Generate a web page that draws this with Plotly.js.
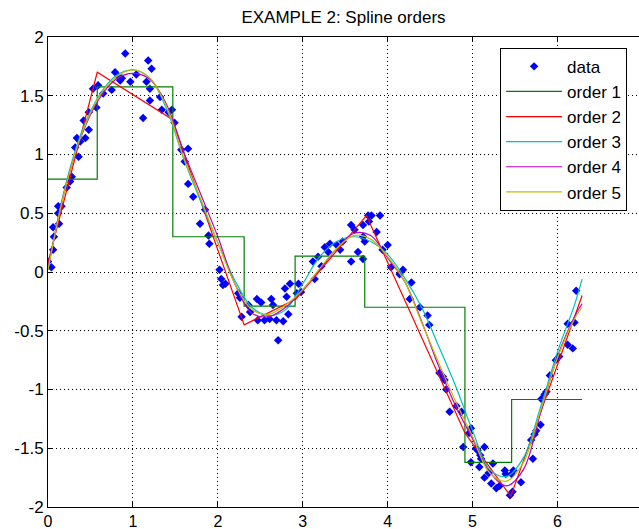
<!DOCTYPE html>
<html>
<head>
<meta charset="utf-8">
<script src="https://cdn.plot.ly/plotly-3.0.1.min.js"></script>
<style>html,body{margin:0;padding:0;background:#fff;}#chart{width:639px;height:529px;}</style>
</head>
<body>
<div id="chart"></div>
<script>
// noisy data samples
const dataX = [0.00,0.04,0.06,0.07,0.06,0.12,0.13,0.12,0.16,0.22,0.26,0.28,0.32,0.34,0.36,0.38,0.42,0.44,0.48,0.48,
  0.53,0.57,0.59,0.65,0.75,0.79,0.83,0.85,0.87,0.91,0.97,1.04,1.12,1.16,1.18,1.20,1.20,1.22,1.32,1.34,
  1.42,1.46,1.49,1.57,1.61,1.65,1.65,1.71,1.79,1.85,1.89,1.90,2.02,2.04,2.06,2.09,
  2.24,2.26,2.28,2.36,2.38,2.46,2.51,2.47,2.55,2.61,2.63,2.65,2.69,2.71,2.77,2.79,2.81,2.83,2.85,2.93,2.95,2.98,
  3.12,3.14,3.18,3.22,3.26,3.30,3.32,3.40,3.44,3.47,3.57,3.57,3.61,3.65,3.71,3.71,3.71,3.73,3.77,3.78,3.81,3.87,3.91,3.94,4.00,
  4.04,4.14,4.18,4.26,4.28,4.38,4.47,4.49,4.61,4.65,4.67,4.69,4.73,4.81,4.87,4.89,4.96,4.98,4.98,
  5.04,5.06,5.08,5.09,5.10,5.14,5.14,5.19,5.22,5.24,5.28,5.32,5.38,5.39,5.44,5.47,5.46,5.48,5.57,5.69,5.71,5.73,5.75,5.80,5.81,5.85,5.87,
  5.91,5.98,6.02,6.12,6.18,6.12,6.20,6.22];
const dataY = [0.09,0.04,0.19,0.30,0.38,0.50,0.41,0.56,0.56,0.72,0.77,0.81,1.06,1.14,0.98,1.11,1.29,1.14,1.36,1.21,
  1.56,1.40,1.59,1.52,1.55,1.70,1.66,1.63,1.65,1.86,1.62,1.68,1.31,1.62,1.80,1.46,1.56,1.73,1.49,1.38,
  1.36,1.38,1.27,1.04,0.94,1.05,0.75,0.64,0.41,0.53,0.31,0.24,0.02,-0.06,-0.11,-0.10,
  -0.18,-0.22,-0.38,-0.28,-0.34,-0.23,-0.26,-0.41,-0.41,-0.40,-0.23,-0.28,-0.41,-0.58,-0.42,-0.14,-0.21,-0.36,-0.10,-0.18,-0.10,-0.17,
  0.09,-0.06,0.13,0.05,0.21,0.17,0.24,0.23,0.19,0.26,0.40,0.09,0.36,0.17,0.40,0.11,0.30,0.26,0.48,0.43,0.48,0.34,0.48,0.19,0.23,
  0.04,-0.02,0.02,-0.23,-0.09,-0.30,-0.37,-0.45,-0.86,-0.89,-0.92,-1.00,-1.19,-1.14,-1.19,-1.49,-1.37,-1.33,-1.62,
  -1.50,-1.52,-1.66,-1.56,-1.59,-1.49,-1.75,-1.71,-1.80,-1.63,-1.84,-1.82,-1.69,-1.72,-1.90,-1.87,-1.72,-1.69,-1.79,-1.43,-1.59,-1.38,-1.35,-1.30,-1.08,-1.04,-1.02,
  -0.88,-0.75,-0.72,-0.62,-0.65,-0.44,-0.43,-0.16];

// order 1 (piecewise constant) and order 2 (piecewise linear) at the breaks
const breaks = [0, 0.58, 1.47, 2.31, 2.91, 3.73, 4.91, 5.46, 6.29];
const order1Y = [0.79, 1.575, 0.30, -0.29, 0.135, -0.30, -1.62, -1.085, -1.085];
const order2X = [0, 0.58, 1.46, 2.31, 2.92, 3.75, 4.91, 5.45, 6.29];
const order2Y = [0.08, 1.70, 1.30, -0.45, -0.23, 0.48, -1.37, -1.91, -0.20];

// smooth fits sampled along x
const fitX = [0,0.2,0.4,0.6,0.8,1.0,1.2,1.4,1.6,1.8,2.0,2.2,2.4,2.6,2.8,3.0,3.2,3.4,3.6,3.8,4.0,4.2,4.4,4.6,4.8,5.0,5.2,5.4,5.6,5.8,6.0,6.2,6.29];
const order3Y = [0.02,0.72,1.20,1.50,1.67,1.72,1.65,1.38,0.96,0.60,0.25,-0.07,-0.30,-0.37,-0.32,-0.10,0.13,0.26,0.30,0.26,0.15,-0.05,-0.30,-0.63,-0.97,-1.35,-1.68,-1.74,-1.58,-1.15,-0.68,-0.28,-0.06];
const order4Y = [0.03,0.70,1.17,1.47,1.64,1.69,1.64,1.42,1.02,0.66,0.30,-0.10,-0.35,-0.38,-0.30,-0.15,0.02,0.20,0.33,0.31,0.12,-0.08,-0.42,-0.80,-1.14,-1.42,-1.70,-1.82,-1.68,-1.20,-0.72,-0.38,-0.27];
const order5Y = [0.02,0.70,1.18,1.49,1.66,1.72,1.65,1.40,0.97,0.62,0.25,-0.10,-0.32,-0.36,-0.28,-0.15,0.03,0.20,0.31,0.28,0.13,-0.08,-0.43,-0.77,-1.10,-1.40,-1.71,-1.78,-1.62,-1.18,-0.73,-0.40,-0.30];

const seriesNames = ['data','order 1','order 2','order 3','order 4','order 5'];
const yTickVals = [-2,-1.5,-1,-0.5,0,0.5,1,1.5,2];
const yTickText = ['-2','-1.5','-1','-0.5','0','0.5','1','1.5','2'];
const xTickVals = [0,1,2,3,4,5,6];
const xTickText = ['0','1','2','3','4','5','6'];

const colors = ['rgb(0,0,255)','rgb(0,128,0)','rgb(255,0,0)','rgb(0,191,191)','rgb(191,0,191)','rgb(191,191,0)'];
const lw = 1.2;

const traces = [
  {x: dataX, y: dataY, mode:'markers', name: seriesNames[0], legendgroup:'g0',
   marker:{symbol:'diamond', size:6.5, color:colors[0], line:{width:0}}},
  {x: breaks, y: order1Y, mode:'lines', name: seriesNames[1], legendgroup:'g1', line:{color:colors[1], width:lw, shape:'hv'}},
  {x: order2X, y: order2Y, mode:'lines', name: seriesNames[2], legendgroup:'g2', line:{color:colors[2], width:lw}},
  {x: fitX, y: order3Y, mode:'lines', name: seriesNames[3], legendgroup:'g3', line:{color:colors[3], width:lw, shape:'spline'}},
  {x: fitX, y: order4Y, mode:'lines', name: seriesNames[4], legendgroup:'g4', line:{color:colors[4], width:lw, shape:'spline'}},
  {x: fitX, y: order5Y, mode:'lines', name: seriesNames[5], legendgroup:'g5', line:{color:colors[5], width:lw, shape:'spline'}}
];

const fontFam = '"Liberation Sans", Arial, sans-serif';
const gridDash = '1px,3px';
const layout = {
  width: 639, height: 529,
  margin: {l:48, r:0, t:37, b:22},
  paper_bgcolor:'#fff', plot_bgcolor:'#fff',
  font: {family: fontFam, color:'#000', size:16},
  title: {text:'EXAMPLE 2: Spline orders', font:{family: fontFam, size:17, color:'#000'}, x:0.5, xref:'paper', y:0.967, yanchor:'middle'},
  showlegend: true,
  legend: {x:0.765, y:0.977, xanchor:'left', yanchor:'top', bgcolor:'#fff', bordercolor:'#000', borderwidth:1,
           font:{family: fontFam, size:17, color:'#000'}, tracegroupgap:0, itemwidth:56},
  xaxis: {range:[0, 6.96], tickmode:'array', tickvals:xTickVals, ticktext:xTickText,
          ticks:'inside', ticklen:5, tickcolor:'#000', showline:true, linecolor:'#000', linewidth:1, mirror:'ticks',
          showgrid:true, gridcolor:'#000', griddash:gridDash, gridwidth:1, zeroline:false,
          tickfont:{family: fontFam, size:16, color:'#000'}},
  yaxis: {range:[-2, 2], tickmode:'array', tickvals:yTickVals, ticktext:yTickText,
          ticks:'inside', ticklen:5, tickcolor:'#000', showline:true, linecolor:'#000', linewidth:1,
          showgrid:true, gridcolor:'#000', griddash:gridDash, gridwidth:1, zeroline:false,
          tickfont:{family: fontFam, size:17, color:'#000'}}
};

Plotly.newPlot('chart', traces, layout, {displayModeBar:false, staticPlot:true});
</script>
</body>
</html>
